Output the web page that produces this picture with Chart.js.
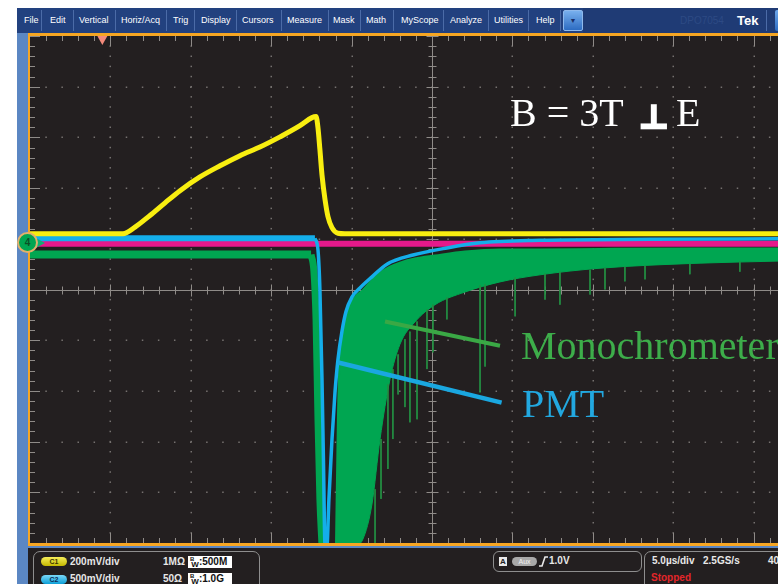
<!DOCTYPE html>
<html>
<head>
<meta charset="utf-8">
<script src="https://cdn.jsdelivr.net/npm/chart.js@4.4.1/dist/chart.umd.min.js"></script>
<style>
  html, body { margin: 0; padding: 0; background: #fff; }
  #page { position: relative; width: 778px; height: 584px; overflow: hidden; background: #fff;
          font-family: "Liberation Sans", Arial, sans-serif; }
  #scope { position: absolute; left: 0; top: 0; }
  .abs { position: absolute; }
  .mi { position: absolute; top: 8px; line-height: 25px; font-size: 9px; color: #fff; white-space: nowrap; }
  .sep { position: absolute; top: 10px; width: 1px; height: 21px; background: #4b6ba7; }
  .box { position: absolute; border: 1px solid #8e8e8e; border-radius: 7px; }
  .st { position: absolute; font-size: 10px; font-weight: bold; color: #e8e8e8; line-height: 12px; white-space: nowrap; }
  .pill { position: absolute; width: 26px; height: 9px; border-radius: 5px; font-size: 7px; font-weight: bold;
          line-height: 9px; text-align: center; }
  .bw { position: absolute; left: 188px; width: 44px; height: 12px; background: #fff; color: #111;
        font-size: 10px; font-weight: bold; line-height: 12px; white-space: nowrap; }
  .bw .b { font-size: 6px; position: relative; top: -4px; margin-left: 2px; }
  .bw .w { font-size: 8px; position: relative; top: 2px; margin-left: -3px; }
  .note { position: absolute; font-family: "Liberation Serif", "Times New Roman", serif; font-size: 40px;
          line-height: 40px; white-space: nowrap; }
</style>
</head>
<body>
<div id="page">
  <canvas id="scope" width="778" height="584"></canvas>

  <!-- menu bar -->
  <div class="abs" style="left:17px;top:8px;width:566px;height:25px;background:#22417f;"></div>
  <div class="abs" style="left:583px;top:8px;width:195px;height:25px;background:#1f3b75;"></div>
  <div id="menu"></div>
  <div class="abs" style="left:563px;top:10px;width:18px;height:19px;border:1px solid #8fb9ec;border-radius:2px;
       background:linear-gradient(#78b0ee,#2d6cc2);font-size:7px;color:#1a2f68;text-align:center;line-height:19px;">▼</div>
  <div class="abs" style="left:680px;top:8px;line-height:25px;font-size:10px;color:#2d4a84;">DPO7054</div>
  <div class="abs" style="left:737px;top:8px;line-height:25px;font-size:13px;font-weight:bold;color:#fff;">Tek</div>
  <div class="sep" style="left:766px;"></div>
  <div class="abs" style="left:775px;top:10px;width:12px;height:21px;border-radius:2px;background:linear-gradient(#6ea8ec,#2d6cc2);"></div>

  <!-- side strip and screen frame -->
  <div class="abs" style="left:17px;top:33px;width:11px;height:551px;background:#5b87c3;"></div>
  <div class="abs" style="left:28px;top:33px;width:750px;height:3px;background:#f6a623;"></div>
  <div class="abs" style="left:28px;top:33px;width:2px;height:513px;background:#f6a623;"></div>
  <div class="abs" style="left:28px;top:543px;width:750px;height:3px;background:#f6a623;"></div>
  <div class="abs" style="left:28px;top:546px;width:750px;height:2px;background:#5b87c3;"></div>

  <!-- status area -->
  <div class="abs" style="left:28px;top:548px;width:750px;height:36px;background:#231f20;"></div>
  <div class="box" style="left:33px;top:551px;width:225px;height:45px;"></div>
  <div class="box" style="left:493px;top:551px;width:147px;height:19px;border-radius:6px;"></div>
  <div class="box" style="left:644px;top:551px;width:160px;height:45px;"></div>

  <div class="pill" style="left:41px;top:557px;background:linear-gradient(#f6ee5a,#c4b800);color:#3b3600;">C1</div>
  <div class="st" style="left:70px;top:556px;">200mV/div</div>
  <div class="st" style="left:163px;top:556px;">1MΩ</div>
  <div class="bw" style="top:556px;"><span class="b">B</span><span class="w">W</span>:500M</div>

  <div class="pill" style="left:41px;top:575px;background:linear-gradient(#7ad8f7,#0c9fd8);color:#0b2f5a;">C2</div>
  <div class="st" style="left:70px;top:573px;">500mV/div</div>
  <div class="st" style="left:163px;top:573px;">50Ω</div>
  <div class="bw" style="top:573px;"><span class="b">B</span><span class="w">W</span>:1.0G</div>

  <div class="abs" style="left:499px;top:557px;width:8px;height:9px;background:#e9e9e9;font-size:8px;font-weight:bold;
       color:#222;text-align:center;line-height:9px;">A</div>
  <div class="pill" style="left:512px;top:557px;width:25px;background:#a9a9a9;color:#f2f2f2;font-weight:normal;">Aux</div>
  <svg class="abs" style="left:539px;top:556px;" width="9" height="11" viewBox="0 0 9 11">
    <polyline points="0,10 3,10 6,1 9,1" fill="none" stroke="#e8e8e8" stroke-width="1.6"/>
  </svg>
  <div class="st" style="left:549px;top:555px;">1.0V</div>

  <div class="st" style="left:652px;top:555px;">5.0µs/div</div>
  <div class="st" style="left:703px;top:555px;">2.5GS/s</div>
  <div class="st" style="left:768px;top:555px;">400ps/pt</div>
  <div class="st" style="left:651px;top:572px;color:#e3262a;">Stopped</div>

  <!-- channel 4 ground marker -->
  <div class="abs" style="left:34px;top:237px;width:0;height:0;border-top:6px solid transparent;
       border-bottom:6px solid transparent;border-left:11px solid #12ad74;"></div>
  <div class="abs" style="left:17px;top:232px;width:17px;height:17px;border-radius:50%;background:#00a651;
       border:2px solid #e1b06c;font-size:10px;font-weight:bold;color:#0b4f27;text-align:center;line-height:17px;">4</div>

  <!-- annotations -->
  <div class="note" style="left:510px;top:93px;color:#fff;">B = 3T</div>
  <div class="abs" style="left:639px;top:101px;font-family:'DejaVu Sans',sans-serif;font-weight:bold;font-size:32px;
       line-height:32px;color:#fff;-webkit-text-stroke:2.5px #fff;">⊥</div>
  <div class="note" style="left:676px;top:93px;color:#fff;">E</div>
  <div class="note" style="left:521px;top:326px;color:#3dad4a;">Monochrometer</div>
  <div class="note" style="left:522px;top:384px;color:#22a8e0;">PMT</div>
</div>

<script>
// ---------- menu ----------
const menuItems = ['File', 'Edit', 'Vertical', 'Horiz/Acq', 'Trig', 'Display', 'Cursors',
                   'Measure', 'Mask', 'Math', 'MyScope', 'Analyze', 'Utilities', 'Help'];
const menuLeft = [24, 50, 79, 121, 173, 201, 242, 287, 333, 366, 401, 450, 494, 536];
const menuSeps = [41, 73, 115, 166, 194, 236, 281, 328, 360, 393, 443, 488, 528, 560];
const menu = document.getElementById('menu');
menuItems.forEach((txt, i) => {
  const d = document.createElement('div');
  d.className = 'mi'; d.style.left = menuLeft[i] + 'px'; d.textContent = txt;
  menu.appendChild(d);
});
menuSeps.forEach(x => {
  const s = document.createElement('div');
  s.className = 'sep'; s.style.left = x + 'px';
  menu.appendChild(s);
});

// ---------- acquisition ----------
// time in µs from the left edge of the screen (5 µs/div), amplitude in vertical divisions
const TIME_PER_DIV = 5;
const SCREEN_TIME = 46.52;
const TRIGGER_T = 4.5;

// C1 (yellow)
const ch1Time  = [0, 5.78, 6.53, 7.46, 8.40, 9.33, 10.57, 11.82, 13.06, 14.30, 15.55, 16.79, 17.54, 17.79,
                  17.91, 18.03, 18.16, 18.35, 18.53, 18.78, 19.15, 19.59, 46.52];
const ch1Level = [1.10, 1.10, 1.23, 1.46, 1.71, 1.95, 2.22, 2.44, 2.64, 2.81, 3.01, 3.23, 3.39, 3.41,
                  3.19, 2.76, 2.26, 1.77, 1.44, 1.22, 1.11, 1.10, 1.10];

// C2 (cyan, PMT): flat part before the pulse, then the pulse and its recovery
const ch2BaseTime  = [0, 17.72];
const ch2BaseLevel = [1.01, 1.01];
const ch2PulseTime  = [17.72, 17.91, 18.03, 18.16, 18.25, 18.35, 18.47, 18.59, 18.78, 18.97, 19.15, 19.40,
                       19.65, 20.02, 20.52, 21.27, 22.20, 23.82, 25.93, 27.99, 31.72, 38.56, 46.52];
const ch2PulseLevel = [1.01, 0.78, 0.00, -1.78, -3.36, -5.05, -5.05, -4.14, -2.96, -2.02, -1.39, -0.83,
                       -0.44, -0.15, 0.03, 0.25, 0.50, 0.68, 0.82, 0.92, 0.97, 0.99, 1.00];

// C3 (magenta)
const ch3Time  = [0, 46.52];
const ch3Level = [0.90, 0.90];

// C4 (green, monochromator): baseline, falling edge, recovery band and its spikes
const ch4BaseTime  = [0, 17.48];
const ch4BaseLevel = [0.69, 0.69];
const ch4FallTime  = [17.48, 17.66, 17.79, 17.91, 18.03, 18.16];
const ch4FallLevel = [0.69, 0.35, -0.59, -2.56, -4.14, -5.05];
const ch4BandTime  = [19.03, 19.15, 19.28, 19.47, 19.71, 20.21, 20.71, 21.27, 21.77, 22.39, 23.01, 23.94,
                      25.19, 27.05, 29.23, 31.72, 35.45, 41.67, 46.52];
const ch4BandHigh  = [-5.05, -2.56, -1.19, -0.74, -0.44, -0.15, -0.01, 0.19, 0.33, 0.45, 0.53, 0.61,
                      0.67, 0.75, 0.79, 0.79, 0.80, 0.81, 0.81];
const ch4BandLow   = [-5.05, -5.05, -5.05, -5.05, -5.05, -5.05, -4.92, -4.23, -2.95, -1.77, -1.08, -0.64,
                      -0.30, -0.05, 0.15, 0.29, 0.42, 0.52, 0.56];
const ch4SpikeTime   = [21.46, 21.83, 22.26, 22.57, 22.89, 23.32, 23.63, 24.07, 24.69, 25.06, 25.93, 27.99,
                        28.30, 30.17, 32.03, 32.96, 34.83, 35.76, 37.00, 38.25, 41.04, 44.15];
const ch4SpikeTop    = [-3.94, -2.95, -1.87, -1.57, -1.28, -0.98, -0.83, -0.63, -0.39, -0.30, -0.16, 0.08,
                        0.10, 0.24, 0.31, 0.35, 0.39, 0.43, 0.45, 0.47, 0.51, 0.55];
const ch4SpikeBottom = [-5.05, -4.13, -3.54, -2.95, -2.07, -2.32, -2.62, -2.56, -1.57, -1.24, -0.59, -2.03,
                        -1.52, -0.53, -0.20, -0.30, -0.10, 0.00, 0.16, 0.20, 0.30, 0.35];

// callout pointers
const monoPointerT = [22.08, 29.23];
const monoPointerV = [-0.63, -1.11];
const pmtPointerT  = [19.17, 29.33];
const pmtPointerV  = [-1.44, -2.23];

// ---------- colours ----------
const YELLOW = '#f8ee10', CYAN = '#14aeea', MAGENTA = '#e5198b', GREEN = '#00a651', GREEN_DARK = '#238f43';

const pts = (t, v) => t.map((x, i) => ({ x, y: v[i] }));
const spikes = [];
ch4SpikeTime.forEach((t, i) => {
  spikes.push({ x: t, y: ch4SpikeTop[i] }, { x: t, y: ch4SpikeBottom[i] }, { x: t, y: null });
});

const line = (data, color, width, order, extra) => Object.assign({
  data, borderColor: color, borderWidth: width, order, fill: false,
  pointRadius: 0, tension: 0, borderJoinStyle: 'round'
}, extra || {});

const datasets = [
  line(pts(ch1Time, ch1Level), YELLOW, 5, 1, { cubicInterpolationMode: 'monotone' }),          // 0
  line(pts(ch2BaseTime, ch2BaseLevel), CYAN, 6, 2),                                             // 1
  line(pts(ch2PulseTime, ch2PulseLevel), CYAN, 3.5, 2, { cubicInterpolationMode: 'monotone' }), // 2
  line(pts(ch4BaseTime, ch4BaseLevel), GREEN, 8, 4),                                            // 3
  line(pts(ch4FallTime, ch4FallLevel), GREEN, 7, 4, { cubicInterpolationMode: 'monotone' }),    // 4
  line(pts(ch4BandTime, ch4BandHigh), GREEN, 2, 5, { cubicInterpolationMode: 'monotone' }),     // 5
  line(pts(ch4BandTime, ch4BandLow), GREEN, 1, 5,
       { cubicInterpolationMode: 'monotone', fill: { target: 5 }, backgroundColor: GREEN }),    // 6
  line(spikes, GREEN_DARK, 1, 4.5, { spanGaps: false }),                                        // 7
  line(pts(ch3Time, ch3Level), MAGENTA, 6, 7),                                                  // 8
  line(pts(monoPointerT, monoPointerV), '#3aa845', 4, 0, { borderCapStyle: 'butt' }),           // 9
  line(pts(pmtPointerT, pmtPointerV), '#1aa7e0', 4.5, 0, { borderCapStyle: 'butt' })            // 10
];

// ---------- graticule ----------
const GRID = '#75716f', TICK = '#8f8b88';
const graticule = {
  id: 'graticule',
  beforeDraw(chart) {
    const { ctx, chartArea: a } = chart;
    ctx.save();
    ctx.fillStyle = '#231f20';
    ctx.fillRect(a.left, a.top, a.right - a.left, a.bottom - a.top);
    ctx.restore();
  },
  beforeDatasetsDraw(chart) {
    const { ctx, chartArea: a, scales: { x: xs, y: ys } } = chart;
    const centreT = 5 * TIME_PER_DIV;
    ctx.save();
    // dotted division lines
    ctx.fillStyle = GRID;
    for (let d = 1; d * TIME_PER_DIV < SCREEN_TIME; d++) {
      if (d === 5) continue;
      const px = Math.round(xs.getPixelForValue(d * TIME_PER_DIV));
      for (let k = -24; k <= 24; k++) {
        const py = ys.getPixelForValue(k / 5);
        ctx.fillRect(px - 0.5, py - 0.75, 1.5, 1.5);
      }
    }
    for (let d = -4; d <= 4; d++) {
      if (d === 0) continue;
      const py = Math.round(ys.getPixelForValue(d));
      for (let k = 1; k < SCREEN_TIME; k++) {
        const px = xs.getPixelForValue(k);
        ctx.fillRect(px - 0.75, py - 0.5, 1.5, 1.5);
      }
    }
    // centre cross with minor ticks, plus the edge ticks
    ctx.strokeStyle = TICK;
    ctx.lineWidth = 1;
    const cx = Math.round(xs.getPixelForValue(centreT)) + 0.5;
    const cy = Math.round(ys.getPixelForValue(0)) + 0.5;
    ctx.beginPath();
    ctx.moveTo(cx, a.top); ctx.lineTo(cx, a.bottom);
    ctx.moveTo(a.left, cy); ctx.lineTo(a.right, cy);
    for (let k = -25; k <= 25; k++) {
      const py = Math.round(ys.getPixelForValue(k / 5)) + 0.5;
      const len = k % 5 === 0 ? 6 : 4;
      ctx.moveTo(cx - len, py); ctx.lineTo(cx + len, py);
      const el = k % 5 === 0 ? 10 : 5;
      ctx.moveTo(a.left, py); ctx.lineTo(a.left + el, py);
    }
    for (let k = 1; k < SCREEN_TIME; k++) {
      const px = Math.round(xs.getPixelForValue(k)) + 0.5;
      const major = k % TIME_PER_DIV === 0;
      const len = major ? 6 : 4;
      ctx.moveTo(px, cy - len); ctx.lineTo(px, cy + len);
      const el = major ? 10 : 5;
      ctx.moveTo(px, a.top); ctx.lineTo(px, a.top + el);
      ctx.moveTo(px, a.bottom); ctx.lineTo(px, a.bottom - el);
    }
    ctx.stroke();
    ctx.restore();
  },
  afterDatasetsDraw(chart) {
    const { ctx, chartArea: a, scales: { x: xs } } = chart;
    const tx = xs.getPixelForValue(TRIGGER_T);
    ctx.save();
    ctx.fillStyle = '#f38a7b';
    ctx.beginPath();
    ctx.moveTo(tx - 5, a.top);
    ctx.lineTo(tx + 5, a.top);
    ctx.lineTo(tx, a.top + 9);
    ctx.closePath();
    ctx.fill();
    ctx.restore();
  }
};

new Chart(document.getElementById('scope'), {
  type: 'line',
  data: { datasets },
  options: {
    responsive: false,
    animation: false,
    devicePixelRatio: 1,
    events: [],
    layout: { padding: { left: 30, top: 36, right: 0, bottom: 41 } },
    scales: {
      x: { type: 'linear', min: 0, max: SCREEN_TIME, display: false },
      y: { type: 'linear', min: -5, max: 5, display: false }
    },
    plugins: { legend: { display: false }, tooltip: { enabled: false } }
  },
  plugins: [graticule]
});
</script>
</body>
</html>
